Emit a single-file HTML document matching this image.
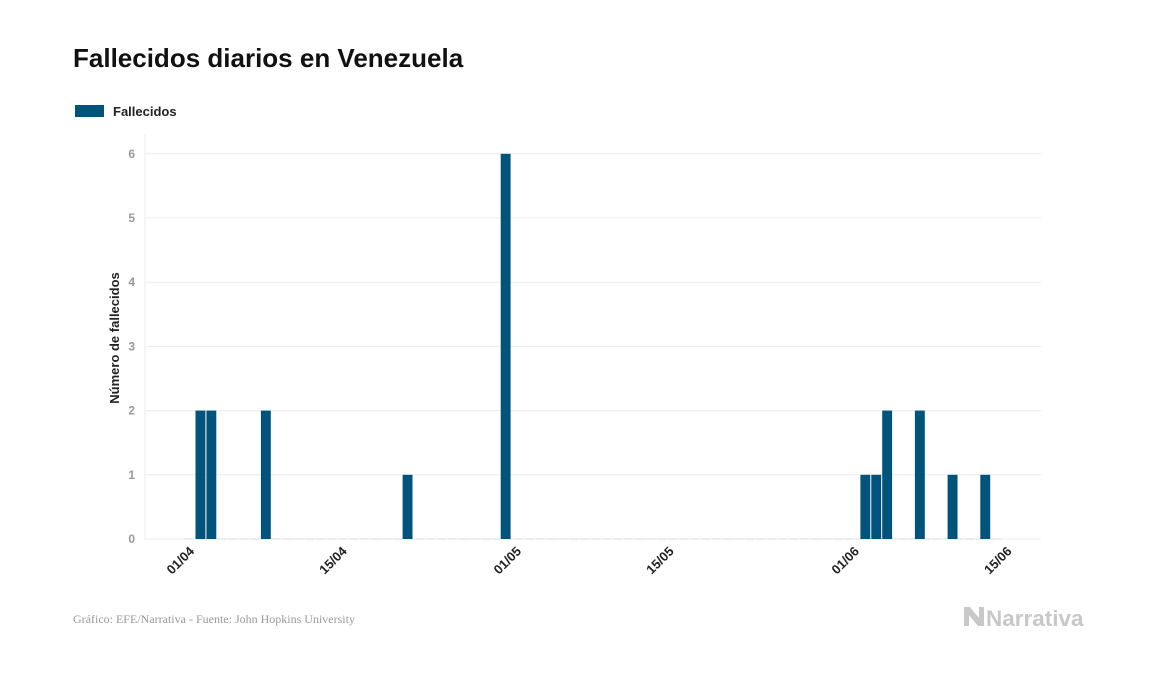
<!DOCTYPE html>
<html><head><meta charset="utf-8"><style>
body{margin:0;background:#fff;width:1157px;height:674px;overflow:hidden;font-family:"Liberation Sans",sans-serif;}
</style></head><body>
<svg width="1157" height="674" xmlns="http://www.w3.org/2000/svg">
<text x="73" y="67" font-size="26" font-weight="bold" fill="#111">Fallecidos diarios en Venezuela</text>
<rect x="75" y="105" width="29" height="12" fill="#00537a"/>
<text x="113" y="116" font-size="13" font-weight="bold" fill="#222">Fallecidos</text>
<text transform="translate(119,338) rotate(-90)" text-anchor="middle" font-size="13" font-weight="bold" fill="#222">Número de fallecidos</text>
<line x1="145" y1="134" x2="145" y2="540" stroke="#eee"/>
<g id="grid"></g><g id="bars"></g><g id="xt"></g>
<text x="73" y="623" font-size="12" fill="#999" font-family="Liberation Serif,serif">Gráfico: EFE/Narrativa - Fuente: John Hopkins University</text>
<g>
<path d="M964 607 L970 607 L979 618 L979 607 L984 607 L984 626 L978 626 L969 615 L969 626 L964 626 Z" fill="#c8c8c8"/>
<text x="986" y="626" font-size="22.5" font-weight="bold" fill="#c8c8c8">Narrativa</text>
</g>
</svg>
<script>
const yTicks=[0,1,2,3,4,5,6];
const xTickLabels=["01/04","15/04","01/05","15/05","01/06","15/06"];
const xTickDays=[0,14,30,44,61,75];
const barDays=[0,1,6,19,28,61,62,63,66,69,72];
const barValues=[2,2,2,1,6,1,1,2,2,1,1];
const NS="http://www.w3.org/2000/svg";
const x0=195,bw=10.9,y0=539,yu=64.2;
const xs=d=>x0+d*bw, ys=v=>y0-v*yu;
const g=document.getElementById('grid'),b=document.getElementById('bars'),xt=document.getElementById('xt');
function mk(p,t,a){const e=document.createElementNS(NS,t);for(const k in a)e.setAttribute(k,a[k]);p.appendChild(e);return e;}
yTicks.forEach(v=>{
 const l=mk(g,'line',{x1:145,x2:1041,y1:ys(v),y2:ys(v),stroke:'#ececec'});
 
 
 const t=mk(g,'text',{x:135,y:ys(v)+4,'text-anchor':'end','font-size':12,'font-weight':'bold',fill:'#999'});
 t.textContent=v;
 
 
});
const bl=mk(g,'line',{x1:xs(-1),x2:xs(74),y1:y0,y2:y0,stroke:'#d5dde2','stroke-dasharray':'9 2'});


barDays.forEach((d,i)=>{
 const r=mk(b,'rect',{x:xs(d)+0.5,y:ys(barValues[i]),width:bw-1,height:barValues[i]*yu,fill:'#00537a'});
 
 
});
xTickLabels.forEach((s,i)=>{
 const x=xs(xTickDays[i]);
 const t=mk(xt,'text',{transform:`translate(${x},552) rotate(-45)`,'text-anchor':'end','font-size':13,'font-weight':'bold',fill:'#222'});
 t.textContent=s;
 
 
});
</script>
</body></html>
